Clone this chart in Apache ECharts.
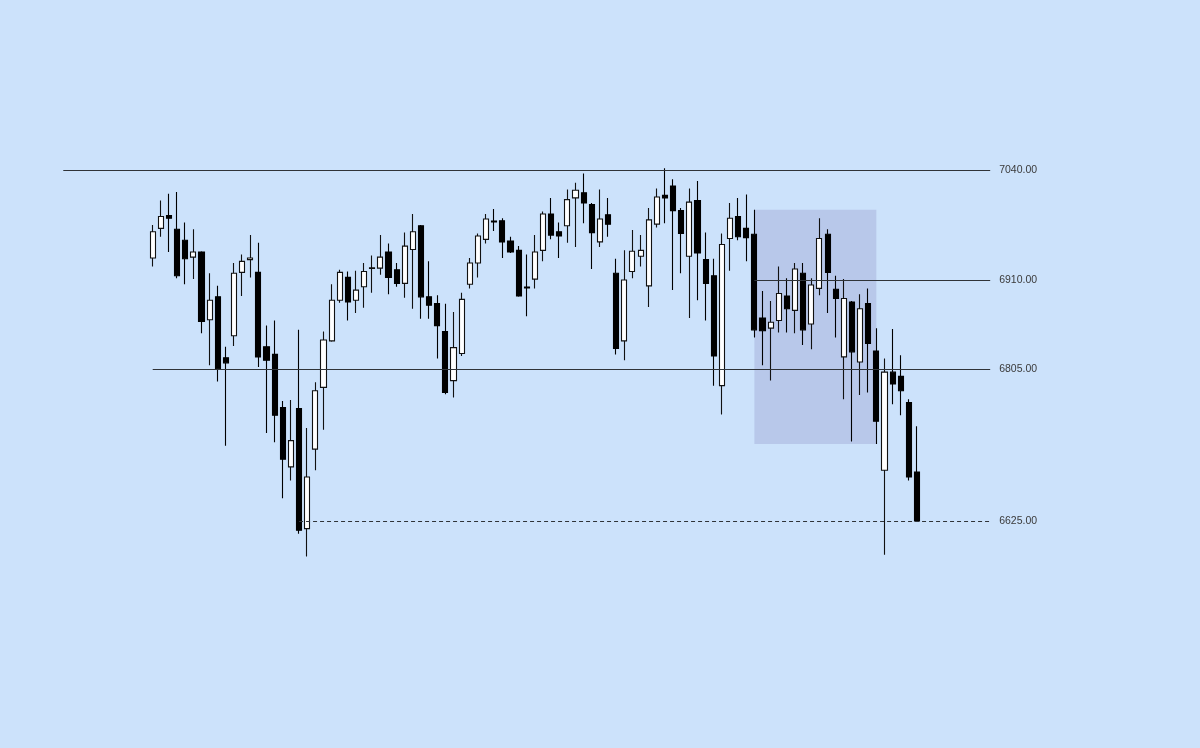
<!DOCTYPE html>
<html>
<head>
<meta charset="utf-8">
<script src="https://cdn.jsdelivr.net/npm/echarts@6/dist/echarts.min.js"></script>
<style>
html,body{margin:0;padding:0;background:#cce2fb;}
#chart{width:1200px;height:748px;}
</style>
</head>
<body>
<div id="chart"></div>
<script>
// ---- data ----
const opens  = [6936,6971,6986,6970,6957,6937,6943,6863,6890,6818,6844,6919,6934,6919,6831,6822,6759,6689,6758,6616,
                6710,6783,6838,6886,6913,6886,6902,6923.5,6924,6943,6922,6906,6946,6974,6890,6882,6849,6791,6823,6905,
                6930,6958,6979.5,6980,6956,6945,6901.5,6911,6945,6988,6967,6974,7007,7013,6999,6955,6987,6918,6838,6920,
                6938,6903,6976,7010,7021,6992,6938,7004,6934,6915,6785,6959,6985,6971,6964,6865,6853,6862,6891,6874,
                6918,6858,6900,6964,6899,6819,6884,6813,6882,6826,6685,6801,6796,6765,6683];
const closes = [6967,6985,6983,6915,6935,6943,6861,6886,6805,6812,6918,6932,6936,6819,6815,6750,6698,6720,6614,6677,
                6779,6839,6886,6919,6884,6898,6920,6924.5,6937,6913,6906,6950,6967,6890,6880,6856,6777,6830,6887,6930,
                6962,6982,6978.5,6955,6943,6891,6900.5,6943,6988,6963,6962,7005,7016,7001,6966,6982,6976,6829,6910,6944,
                6945,6981,7008,7007,6992,6965,7002,6942,6906,6820,6952,6983,6961,6960,6851,6850,6860,6894,6876,6923,
                6851,6904,6959,6919,6888,6888,6825,6876,6835,6743,6801,6787,6779,6677,6625];
const lows   = [6926,6961,6943,6912,6905,6911,6847,6809,6790,6714,6832,6891,6913,6807,6729,6718,6652,6673,6610,6583,
                6685,6733,6837,6883,6862,6871,6877,6895,6916,6893,6902,6889,6876,6864,6864,6817,6775,6771,6820,6900,
                6913,6953,6968,6936,6942,6890,6867,6900,6932,6958,6936,6954,6949,6977,6923,6949,6961,6822,6815,6912,
                6926,6878,6972,6977,6898,6918,6865,6886,6862,6785,6751,6921,6957,6932,6842,6809,6791,6848,6848,6847,
                6833,6828,6892,6871,6842,6769,6719,6774,6777,6716,6585,6763,6750,6673,6625];
const highs  = [6975,7004,7012,7014,6978,6970,6944,6918,6903,6831,6930,6940,6963,6954,6856,6862,6767,6768,6851,6735,
                6789,6849,6905,6922,6920,6921,6930,6939,6963,6953,6930,6966,6988,6975,6932,6892,6882,6872,6895,6936,
                6965,6988,6994,6983,6961,6950,6940,6963,6991,7007,6978,7017,7025,7036,7001,7017,7007,6935,6945,6969,
                6963,6995,7018,7042,7029,6995,7018,7027,6966,6935,6965,7001,7007,7011,6993,6897,6885,6926,6912,6930,
                6930,6912,6983,6970,6915,6911,6885,6893,6900,6853,6817,6852,6821,6769,6737];

// horizontal levels and the candle index where each one starts (negative = before first candle)
const levelValues = [7040, 6910, 6805, 6625];
const levelStarts = [-11, 74, 0, 18];
const levelDashed = [false, false, false, true];

// shaded zone: candle index range and price range
const zoneFrom = 74, zoneTo = 89, zoneTop = 6993, zoneBottom = 6716;

const leadPad = 11, tailPad = 9;

// ---- build ----
const n = opens.length;
const categories = [];
for (let i = -leadPad; i < n + tailPad; i++) categories.push('c' + i);
const catOf = i => 'c' + i;
const lastCat = catOf(n + tailPad - 1);

const candleData = [];
for (let i = 0; i < leadPad; i++) candleData.push('-');
for (let i = 0; i < n; i++) candleData.push([opens[i], closes[i], lows[i], highs[i]]);
for (let i = 0; i < tailPad; i++) candleData.push('-');

const lineData = levelValues.map((v, k) => [
  { coord: [catOf(levelStarts[k]), v], value: v,
    lineStyle: { type: levelDashed[k] ? [4, 3] : 'solid' },
    label: { formatter: v.toFixed(2) } },
  { coord: [lastCat, v], value: v }
]);

const chart = echarts.init(document.getElementById('chart'), null, { renderer: 'canvas' });
chart.setOption({
  animation: false,
  backgroundColor: '#cce2fb',
  grid: { left: 59.2, right: 205.75, top: 76.96, bottom: 121.28 },
  xAxis: { type: 'category', data: categories, boundaryGap: true, show: false },
  yAxis: { type: 'value', min: 6500, max: 7150, show: false, splitLine: { show: false } },
  series: [
    {
      type: 'line', data: [], z: 1, silent: true,
      markArea: {
        silent: true,
        itemStyle: { color: '#b8c8ea' },
        data: [[ { coord: [catOf(zoneFrom), zoneTop] }, { coord: [catOf(zoneTo), zoneBottom] } ]]
      },
      markLine: {
        silent: true,
        symbol: ['none', 'none'],
        lineStyle: { color: '#2f3338', width: 1.2 },
        label: {
          position: 'end', distance: 9, color: '#3a3a3a', fontSize: 10.5,
          fontFamily: 'Liberation Sans, Arial, sans-serif'
        },
        data: lineData
      }
    },
    {
      type: 'candlestick', z: 3,
      data: candleData,
      barWidth: 5.6,
      itemStyle: {
        color: '#ffffff', color0: '#000000',
        borderColor: '#111111', borderColor0: '#000000',
        borderWidth: 1.1
      }
    }
  ]
});
</script>
</body>
</html>
